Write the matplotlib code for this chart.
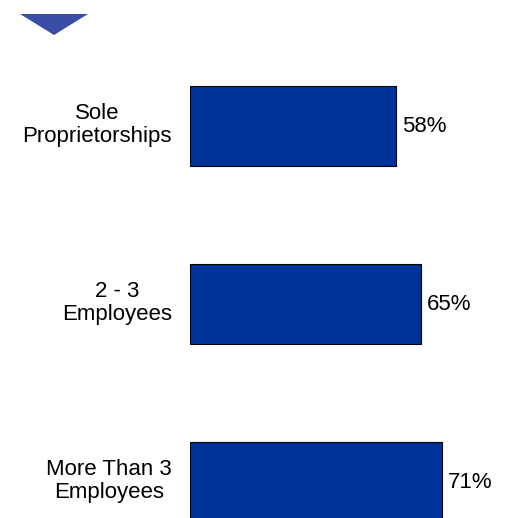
import matplotlib.pyplot as plt
from matplotlib.patches import Polygon

plt.rcParams['font.family'] = ['Liberation Sans', 'DejaVu Sans']

categories = ['Sole\nProprietorships', '2 - 3\nEmployees', 'More Than 3\nEmployees']
values = [58, 65, 71]
labels = ['58%', '65%', '71%']

W, H = 509, 518
fig = plt.figure(figsize=(W / 100, H / 100), dpi=100)

# main axes: x=0 sits at pixel 190, ~3.55 px per percent
left_px, px_per = 190, 3.55
ax = fig.add_axes([left_px / W, 0, (W - left_px) / W, 1])
ax.set_xlim(0, (W - left_px) / px_per)
# bar centres at pixel rows 126, 304, 482
y0, step = 126, 178
ax.set_ylim((H - y0) / step, -y0 / step)
ax.axis('off')

pos = list(range(len(values)))
ax.barh(pos, values, height=80 / step, color='#003399', edgecolor='black', linewidth=0.8)

for p, v, lab, cat in zip(pos, values, labels, categories):
    ax.annotate(lab, xy=(v, p), xytext=(6, 0), textcoords='offset pixels',
                ha='left', va='center', fontsize=16, color='black')
    ax.annotate(cat, xy=(0, p), xytext=(-18, 1), textcoords='offset pixels',
                ha='right', va='center', multialignment='center',
                fontsize=16, linespacing=1.15, color='black',
                annotation_clip=False)

# small triangle marker at top-left
fig.patches.append(Polygon([(20 / W, 1 - 14 / H), (88 / W, 1 - 14 / H), (54 / W, 1 - 35 / H)],
                           closed=True, transform=fig.transFigure, facecolor='#3a4ea8',
                           edgecolor='none'))

fig.savefig('out.png', dpi=100)
